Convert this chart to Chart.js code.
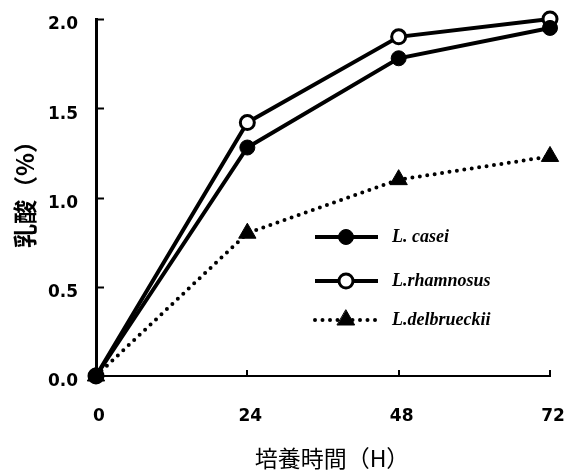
<!DOCTYPE html>
<html><head><meta charset="utf-8">
<script src="https://cdn.jsdelivr.net/npm/chart.js@4"></script>
<style>html,body{margin:0;padding:0;background:#fff}</style>
</head><body>
<canvas id="c" width="574" height="473"></canvas>
<script>
const hours = [0, 24, 48, 72];
const casei = [0, 1.28, 1.78, 1.95];
const rhamnosus = [0, 1.42, 1.90, 2.00];
const delbrueckii = [0, 0.80, 1.10, 1.23];
const seriesNames = ['L. casei', 'L.rhamnosus', 'L.delbrueckii'];
const xTicks = [0, 24, 48, 72];
const yTicks = [0, 0.5, 1.0, 1.5, 2.0];
const xTitle = '培養時間（H）';
const yTitle = '乳酸（%）';

const toPts = arr => hours.map((h, i) => ({x: h, y: arr[i]}));

const insideLegend = {
  id: 'insideLegend',
  afterDraw(chart) {
    const ctx = chart.ctx;
    const a = chart.chartArea;
    const x0 = a.left + 219, x1 = a.left + 282, xm = a.left + 250, xt = a.left + 296;
    const rows = [237, 281, 320];
    chart.data.datasets.forEach((ds, i) => {
      const y = rows[i];
      ctx.save();
      ctx.strokeStyle = ds.borderColor;
      ctx.lineWidth = ds.borderWidth;
      ctx.lineCap = ds.borderCapStyle || 'butt';
      ctx.setLineDash(ds.borderDash || []);
      ctx.beginPath();
      ctx.moveTo(x0, y); ctx.lineTo(x1, y); ctx.stroke();
      ctx.setLineDash([]);
      ctx.fillStyle = ds.pointBackgroundColor;
      ctx.strokeStyle = ds.pointBorderColor;
      ctx.lineWidth = ds.pointBorderWidth;
      Chart.helpers.drawPoint(ctx, {pointStyle: ds.pointStyle, radius: ds.pointRadius, borderWidth: ds.pointBorderWidth, rotation: 0}, xm, y);
      ctx.fillStyle = '#000';
      ctx.font = 'italic bold 18px "Liberation Serif", serif';
      ctx.textBaseline = 'middle';
      ctx.textAlign = 'left';
      ctx.fillText(ds.label, xt, y);
      ctx.restore();
    });
  }
};

const axisTitles = {
  id: 'axisTitles',
  afterDraw(chart) {
    const ctx = chart.ctx;
    const a = chart.chartArea;
    ctx.save();
    ctx.fillStyle = '#000';
    ctx.textAlign = 'center';
    ctx.textBaseline = 'middle';
    ctx.font = 'normal 23px "Noto Sans CJK JP", sans-serif';
    ctx.fillText(xTitle, (a.left + a.right) / 2 + 9, a.bottom + 82);
    ctx.translate(a.left - 71, (a.top + a.bottom) / 2 - 9);
    ctx.rotate(-Math.PI / 2);
    ctx.font = 'bold 24px "Noto Sans CJK JP", sans-serif';
    ctx.fillText(yTitle, 0, 0);
    ctx.restore();
  }
};

const innerTicks = {
  id: 'innerTicks',
  beforeDatasetsDraw(chart) {
    const ctx = chart.ctx;
    const xs = chart.scales.x, ys = chart.scales.y;
    const a = chart.chartArea;
    ctx.save();
    ctx.strokeStyle = '#000';
    ctx.lineWidth = 2;
    yTicks.forEach(v => {
      if (v === 0) return;
      const p = Math.round(ys.getPixelForValue(v)) + 0.5;
      ctx.beginPath(); ctx.moveTo(a.left, p); ctx.lineTo(a.left + 8, p); ctx.stroke();
    });
    xTicks.forEach(v => {
      if (v === 0) return;
      const p = Math.round(xs.getPixelForValue(v));
      ctx.beginPath(); ctx.moveTo(p, a.bottom); ctx.lineTo(p, a.bottom - 6); ctx.stroke();
    });
    ctx.restore();
  }
};

new Chart(document.getElementById('c'), {
  type: 'line',
  data: {
    datasets: [
      {label: seriesNames[0], data: toPts(casei), borderColor: '#000', borderWidth: 4, clip: false,
       pointStyle: 'circle', pointRadius: 7.5, pointBackgroundColor: '#000', pointBorderColor: '#000', pointBorderWidth: 1},
      {label: seriesNames[1], data: toPts(rhamnosus), borderColor: '#000', borderWidth: 4, clip: false,
       pointStyle: 'circle', pointRadius: 7, pointBackgroundColor: '#fff', pointBorderColor: '#000', pointBorderWidth: 3},
      {label: seriesNames[2], data: toPts(delbrueckii), borderColor: '#000', borderWidth: 4, clip: false,
       borderDash: [0, 7.5], borderCapStyle: 'round',
       pointStyle: 'triangle', pointRadius: 10, pointBackgroundColor: '#000', pointBorderColor: '#000', pointBorderWidth: 1}
    ]
  },
  options: {
    responsive: false,
    animation: false,
    devicePixelRatio: 1,
    layout: {padding: {top: 19, right: 24, left: 0, bottom: 0}},
    plugins: {legend: {display: false}, tooltip: {enabled: false}},
    elements: {line: {tension: 0}},
    scales: {
      x: {
        type: 'linear', min: 0, max: 72,
        afterBuildTicks: s => { s.ticks = xTicks.map(v => ({value: v})); },
        afterFit: s => { s.height = 97; s.paddingLeft = 0; s.paddingRight = 0; },
        grid: {display: false, drawTicks: false},
        border: {display: true, color: '#000', width: 2},
        ticks: {padding: 30, labelOffset: 3, color: '#000',
                font: {family: '"DejaVu Sans", sans-serif', size: 17, weight: 'bold'}},
        title: {display: false, text: xTitle}
      },
      y: {
        min: 0, max: 2,
        afterBuildTicks: s => { s.ticks = yTicks.map(v => ({value: v})); },
        afterFit: s => { s.width = 96; s.paddingTop = 0; s.paddingBottom = 0; },
        grid: {display: false, drawTicks: false},
        border: {display: true, color: '#000', width: 3},
        ticks: {padding: 18, labelOffset: 6, color: '#000',
                callback: v => Number(v).toFixed(1),
                font: {family: '"DejaVu Sans", sans-serif', size: 17, weight: 'bold'}},
        title: {display: false, text: yTitle}
      }
    }
  },
  plugins: [innerTicks, insideLegend, axisTitles]
});
</script>
</body></html>
